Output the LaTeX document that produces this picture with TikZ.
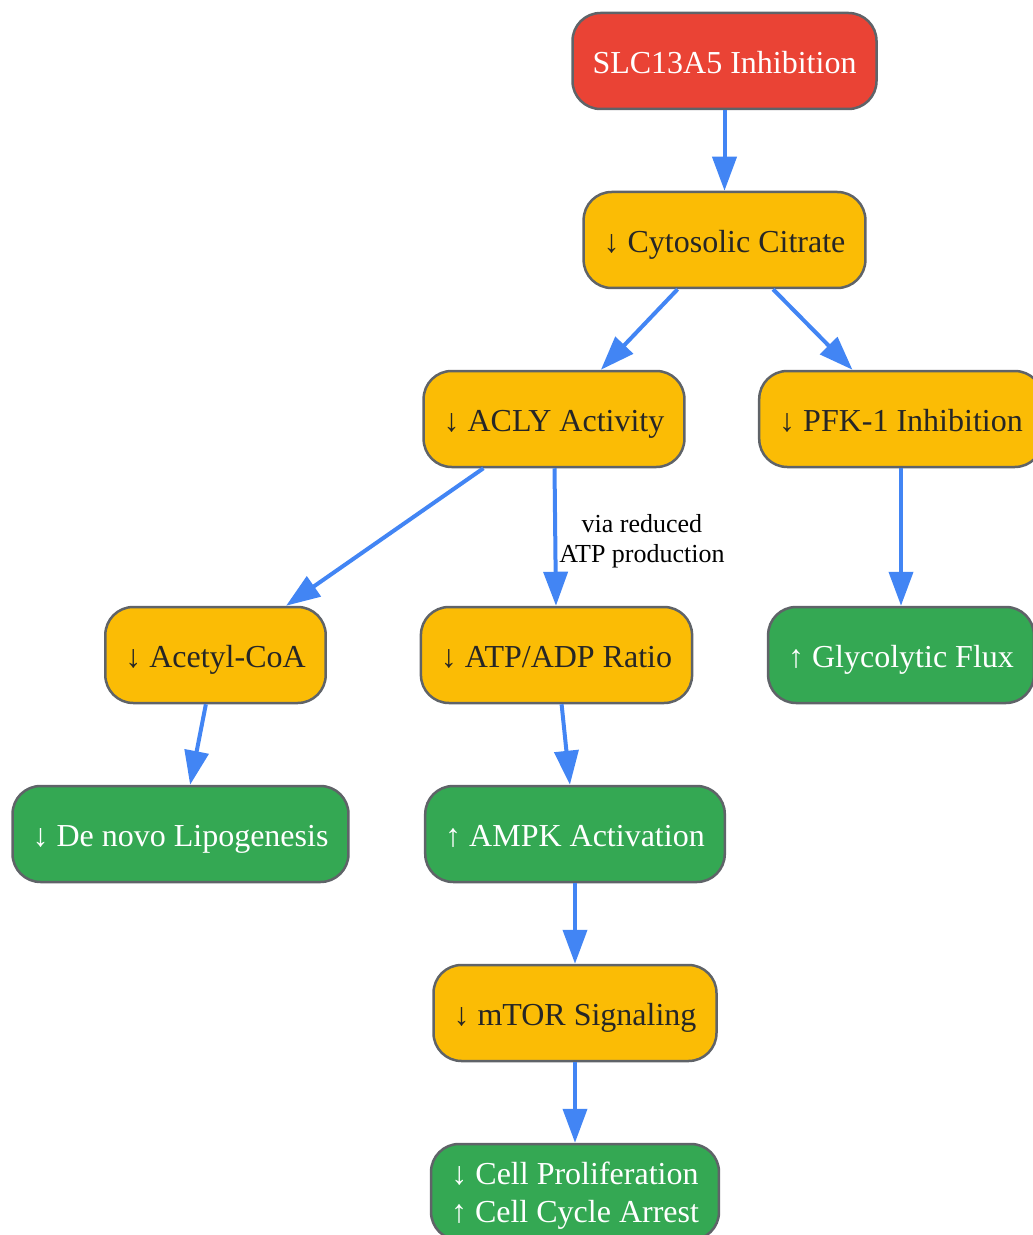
\documentclass[tikz,border=0pt]{standalone}
\usepackage{fontspec}
\setmainfont{Liberation Serif}
\usetikzlibrary{positioning}
\usetikzlibrary{arrows.meta}
\definecolor{gred}{HTML}{EA4335}
\definecolor{gyellow}{HTML}{FBBC05}
\definecolor{ggreen}{HTML}{34A853}
\definecolor{gblue}{HTML}{4285F4}
\definecolor{boxgray}{HTML}{5F6368}
\tikzset {
  node distance={40.25pt},
  % rounded box for every step
  main/.style = {draw=boxgray, line width=1.25pt, rounded corners=14pt, minimum height=48pt, inner xsep=10pt, align=center, text height=13.5pt, text depth=1pt, font=\fontsize{16}{19}\selectfont},
  % two lines of text
  twolines/.style={text height={}, text depth=0pt},
  % starting point
  target/.style={fill=gred, text=white},
  % intermediate changes
  change/.style={fill=gyellow, text=black!85},
  % end effects
  effect/.style={fill=ggreen, text=white},
  % arrows between steps
  flow/.style={gblue, line width=2pt, -{Triangle[length=17pt, width=12pt]}},
  mid/.style={midway, anchor=west, yshift=-2pt, inner sep=1pt, align=center, text=black, font=\fontsize{13}{15}\selectfont},
}

\begin{document}
\begin{tikzpicture}[x=0.5pt, y=-0.5pt]
        \useasboundingbox (0,0) rectangle (1032,1235);
        \node[main, target] (slc) at (724.5,61) {SLC13A5 Inhibition};
        \node[main, change] (cyto) [below=of slc] {↓ Cytosolic Citrate};
        \node[main, change] (acly) [below=of cyto, xshift=-85.25pt] {↓ ACLY Activity};
        \node[main, change] (pfk) [below=of cyto, xshift=88.25pt] {↓ PFK-1 Inhibition};
        \node[main, change] (acoa) [below=68.75pt of acly, xshift=-169.25pt] {↓ Acetyl-CoA};
        \node[main, change] (atp) [below=68.75pt of acly, xshift=1.25pt] {↓ ATP/ADP Ratio};
        \node[main, effect] (glyco) [below=68.75pt of pfk] {↑ Glycolytic Flux};
        \node[main, effect] (dnl) [below=of acoa, xshift=-17.5pt] {↓ De novo Lipogenesis};
        \node[main, effect] (ampk) [below=of atp, xshift=9.25pt] {↑ AMPK Activation};
        \node[main, change] (mtor) [below=of ampk] {↓ mTOR Signaling};
        \node[main, effect, twolines] (cell) [below=of mtor] {↓ Cell Proliferation\\↑ Cell Cycle Arrest};

        \draw [flow] (slc) -- (cyto);
        \draw [flow] (cyto) -- (acly);
        \draw [flow] (cyto) -- (pfk);
        \draw [flow] (acly) -- (acoa);
        \draw [flow] (acly) -- node[mid] {via reduced\\ATP production} (atp);
        \draw [flow] (pfk) -- (glyco);
        \draw [flow] (acoa) -- (dnl);
        \draw [flow] (atp) -- (ampk);
        \draw [flow] (ampk) -- (mtor);
        \draw [flow] (mtor) -- (cell);
      \end{tikzpicture}
\end{document}
